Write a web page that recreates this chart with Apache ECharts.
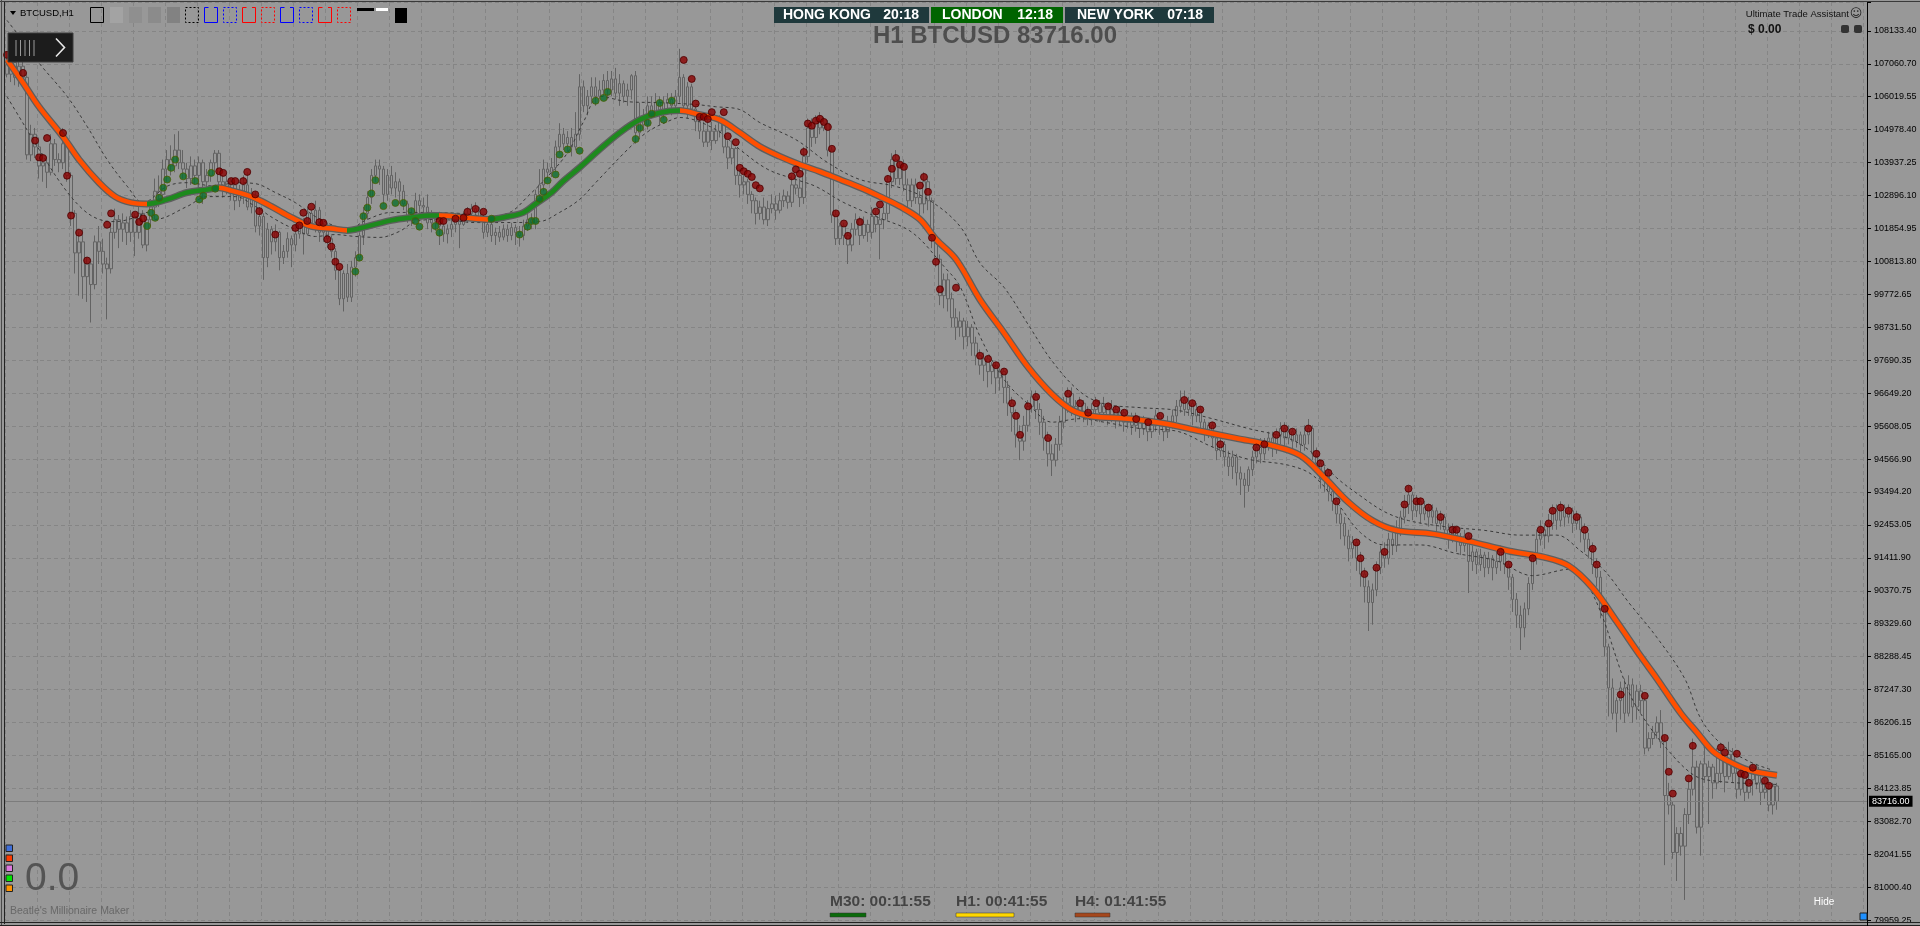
<!DOCTYPE html>
<html><head><meta charset="utf-8">
<script src="https://cdn.jsdelivr.net/npm/echarts/dist/echarts.min.js"></script>
<style>html,body{margin:0;padding:0;background:#989898;}#c{width:1920px;height:926px;}</style>
</head><body><div id="c"></div>
<script>
// ---------------- DATA ----------------
const symbolName = 'BTCUSD,H1';
const lastPrice = 83716.00;
const yTickLabels = ['79959.25','81000.40','82041.55','83082.70','84123.85','85165.00','86206.15','87247.30','88288.45','89329.60','90370.75','91411.90','92453.05','93494.20','94566.90','95608.05','96649.20','97690.35','98731.50','99772.65','100813.80','101854.95','102896.10','103937.25','104978.40','106019.55','107060.70','108133.40'];

const candleOpen = [
107000,106700,107070,106600,106950,106600,104150,104800,104400,103800,
103900,103600,104500,104000,103900,104500,103500,102300,101050,101400,
100300,100700,100050,101400,101100,100700,100550,101700,102100,101800,
102000,101700,102200,101700,102300,101300,102100,102500,103000,102900,
103700,104000,103800,104300,103900,103700,103400,103800,103500,103900,
103300,103500,103900,104200,103300,103100,103300,103200,102700,103000,
103200,102500,102800,101900,102200,100900,101800,101400,101700,100900,
101100,101500,101300,101650,102000,101650,102300,102000,102400,101700,
101900,101500,101100,100500,99600,100400,99650,100600,100900,101600,
102300,102800,103500,103800,103700,102900,103500,103100,103300,103000,
102600,102200,102300,102700,102550,102500,102000,102200,102050,101900,
101650,101800,101950,102150,101950,102200,102300,102450,102350,102200,
101700,101950,101600,101700,101550,101800,101600,101850,101700,101600,
101900,102100,102000,102900,103200,103700,103600,103750,104400,104800,
104500,104700,104400,104800,106300,105700,106000,106300,106000,106200,
106500,106200,106550,106100,106400,106000,106200,106650,104850,105300,
105100,105700,105500,105800,105500,105800,105900,105700,106000,106600,
105700,106300,105600,105200,104900,104550,104900,104600,104900,105200,
104400,104050,104350,103500,103200,103300,102900,102700,102300,102500,
102100,102450,102600,102400,102700,102850,102650,103200,103100,102800,
104100,105000,104700,105200,105000,105150,104300,102250,101500,101900,
101600,101300,101800,102100,101600,101950,101700,102200,101950,102100,
102300,103300,104000,103400,103800,103200,102700,103200,102800,102600,
103300,102700,101500,100850,99700,100200,
99600,99000,98700,98900,98400,98700,98200,97800,97500,97700,
97300,97500,97100,97300,96800,96300,96000,95300,95100,95600,
96200,96500,96100,95700,95200,94700,94500,95000,95700,96300,
96600,96200,96000,96300,96000,95800,96100,96300,96000,96200,
95900,96100,95800,96000,95700,95900,95600,95800,95500,95700,
95400,95600,95900,95600,95400,95700,95900,96200,96400,96100,
96300,95900,96100,95700,95400,95600,95200,94800,95000,94600,
94300,94600,94100,93900,93700,94200,94600,94900,94700,95000,
95200,94900,95300,95500,95200,95400,95100,95300,95000,95300,
95500,94700,94400,93900,94100,93500,93200,92800,92500,92100,
91700,91900,91400,90900,90500,90000,90400,91100,91600,91400,
92000,91800,92300,92700,93100,93400,92900,93200,92800,93000,
92700,92900,92500,92700,92300,92100,92300,92000,91800,92100,
91300,91600,91200,91500,91100,91400,91100,91300,91600,91200,
90800,90100,89600,89200,89800,90600,91400,92000,92300,92100,
92500,92900,92600,93000,92700,92900,92500,92700,92300,92000,
91700,91200,90800,89800,
88600,87300,86500,86900,87300,86500,87400,86700,87200,86900,
85400,85700,85900,86200,85600,83900,83600,82100,82700,82300,
83300,84100,84800,82900,84900,84500,84800,84300,84600,85100,
84500,85200,84600,84100,84500,84000,84400,84800,84300,84000,
84100,83600,84200];

const candleClose = [
106700,107070,106600,106950,106600,104150,104800,104400,103800,103900,
103600,104500,104000,103900,104500,103500,102300,101050,101400,100300,
100700,100050,101400,101100,100700,100550,101700,102100,101800,102000,
101700,102200,101700,102300,101300,102100,102500,103000,102900,103700,
104000,103800,104300,103900,103700,103400,103800,103500,103900,103300,
103500,103900,104200,103300,103100,103300,103200,102700,103000,103200,
102500,102800,101900,102200,100900,101800,101400,101700,100900,101100,
101500,101300,101650,102000,101650,102300,102000,102400,101700,101900,
101500,101100,100500,99600,100400,99650,100600,100900,101600,102300,
102800,103500,103800,103700,102900,103500,103100,103300,103000,102600,
102200,102300,102700,102550,102500,102000,102200,102050,101900,101650,
101800,101950,102150,101950,102200,102300,102450,102350,102200,101700,
101950,101600,101700,101550,101800,101600,101850,101700,101600,101900,
102100,102000,102900,103200,103700,103600,103750,104400,104800,104500,
104700,104400,104800,106300,105700,106000,106300,106000,106200,106500,
106200,106550,106100,106400,106000,106200,106650,104850,105300,105100,
105700,105500,105800,105500,105800,105900,105700,106000,106600,105700,
106300,105600,105200,104900,104550,104900,104600,104900,105200,104400,
104050,104350,103500,103200,103300,102900,102700,102300,102500,102100,
102450,102600,102400,102700,102850,102650,103200,103100,102800,104100,
105000,104700,105200,105000,105150,104300,102250,101500,101900,101600,
101300,101800,102100,101600,101950,101700,102200,101950,102100,102300,
103300,104000,103400,103800,103200,102700,103200,102800,102600,103300,
102700,101500,100850,99700,100200,99600,
99000,98700,98900,98400,98700,98200,97800,97500,97700,97300,
97500,97100,97300,96800,96300,96000,95300,95100,95600,96200,
96500,96100,95700,95200,94700,94500,95000,95700,96300,96600,
96200,96000,96300,96000,95800,96100,96300,96000,96200,95900,
96100,95800,96000,95700,95900,95600,95800,95500,95700,95400,
95600,95900,95600,95400,95700,95900,96200,96400,96100,96300,
95900,96100,95700,95400,95600,95200,94800,95000,94600,94300,
94600,94100,93900,93700,94200,94600,94900,94700,95000,95200,
94900,95300,95500,95200,95400,95100,95300,95000,95300,95500,
94700,94400,93900,94100,93500,93200,92800,92500,92100,91700,
91900,91400,90900,90500,90000,90400,91100,91600,91400,92000,
91800,92300,92700,93100,93400,92900,93200,92800,93000,92700,
92900,92500,92700,92300,92100,92300,92000,91800,92100,91300,
91600,91200,91500,91100,91400,91100,91300,91600,91200,90800,
90100,89600,89200,89800,90600,91400,92000,92300,92100,92500,
92900,92600,93000,92700,92900,92500,92700,92300,92000,91700,
91200,90800,89800,88600,
87300,86500,86900,87300,86500,87400,86700,87200,86900,85400,
85700,85900,86200,85600,83900,83600,82100,82700,82300,83300,
84100,84800,82900,84900,84500,84800,84300,84600,85100,84500,
85200,84600,84100,84500,84000,84400,84800,84300,84000,84100,
83600,84200,83716];

const candleLow = [
106600,106450,106350,106300,106400,104000,103950,104050,103400,103300,
103100,103500,103800,103600,103700,103300,101900,100400,99700,99600,
99500,98850,99900,100700,100400,98950,100400,101500,101200,101400,
101300,101400,100950,101500,101200,101100,101900,102100,102500,102700,
103300,103500,103600,103700,103400,103100,103200,103200,103000,102600,
102900,103300,103600,103100,102800,102900,102700,102400,102500,102600,
102400,102300,101700,101600,100200,100600,101000,101100,100500,100700,
100900,100600,101100,101500,101000,101600,101800,101700,101400,101400,
101200,100900,100200,99400,99200,99500,99500,100300,100800,101300,
102100,102600,103300,103200,102600,102700,102900,102800,102600,102400,
102000,101900,102200,102300,102200,101800,101700,101750,101300,101400,
101350,101550,101700,101200,101900,102000,102100,102150,102000,101500,
101550,101400,101300,101400,101450,101400,101450,101300,101250,101450,
101750,101800,101800,102700,103000,103350,103450,103600,104200,104300,
104250,104100,104300,104600,105500,105400,105800,105700,105900,106000,
105900,106000,105900,105700,105800,105700,105900,104500,104700,104900,
104950,105300,105350,105100,105300,105600,105400,105500,105800,105500,
105300,105400,104900,104650,104400,104400,104300,104500,104700,104200,
103700,103850,103200,102800,102900,102600,102300,101950,102100,101950,
101900,102300,102100,102300,102500,102450,102500,102900,102500,102600,
103900,104400,104500,104800,104900,104100,102000,101300,101300,101300,
100700,101100,101600,101300,101500,101400,101500,101700,100850,101800,
102100,103100,103200,103200,103000,102500,102500,102600,102200,102300,
102400,101200,100600,99400,99300,99200,
98700,98300,98400,98000,98100,97800,97500,97200,97000,96800,
96900,96600,96700,96300,95900,95400,94900,94500,94800,95400,
96000,95800,95300,94800,94300,94000,94300,94800,95500,96000,
95900,95700,95800,95700,95600,95600,95900,95700,95800,95600,
95700,95500,95600,95400,95500,95300,95400,95200,95300,95100,
95200,95400,95300,95100,95200,95500,95700,96000,95900,95900,
95600,95700,95400,95100,95200,94900,94500,94600,94300,94000,
93900,93700,93400,93000,93500,94000,94400,94400,94500,94800,
94600,94700,95000,94900,95000,94800,94900,94700,94800,95000,
94500,94100,93600,93500,93200,92900,92500,92000,91800,91300,
91400,91000,90500,90000,89100,89300,90200,90900,91100,91200,
91500,91600,92100,92500,92800,92600,92700,92500,92600,92400,
92500,92200,92300,92000,91700,91900,91600,91500,91600,90300,
91000,90900,91000,90800,90900,90700,90900,91000,90900,90400,
89700,89200,88500,88900,89600,90400,91200,91800,91700,91900,
92300,92300,92400,92400,92500,92200,92300,91900,91600,91400,
90900,90500,89500,88300,
86400,86300,85900,86300,86200,86400,86200,86300,86500,85200,
85300,85500,85700,85400,81700,83300,81900,81200,82000,80600,
83000,83900,82700,82000,84300,83000,83800,84100,84300,84000,
84400,84300,83800,83900,83700,83800,83900,84100,83600,83800,
83400,83300,83450];

const candleHigh = [
107400,107350,107300,107300,107200,106750,105100,105000,104700,104200,
104100,104800,104650,104200,105000,104600,103600,102400,101700,101800,
100900,100850,101600,101900,101500,100900,102000,102450,102250,102300,
102200,102400,102300,102600,102400,102200,102700,103400,103500,104000,
104300,104450,104800,104900,104300,103900,104100,104000,104100,104000,
103700,104000,104300,104300,103500,103500,103400,103300,103200,103500,
103600,103100,103000,102500,102300,102000,101900,101950,101750,101300,
101700,101600,101850,102100,102150,102500,102400,102700,102500,102000,
102000,101600,101200,100600,100500,100700,100800,101100,101700,102500,
103000,103700,104000,104000,103800,103700,103800,103600,103400,103200,
102700,102450,102950,102900,102800,102900,102400,102300,102350,102000,
101950,102150,102300,102300,102350,102500,102600,102650,102500,102250,
102100,102000,101850,101900,101950,101950,102000,101950,101900,102100,
102300,102300,103050,103700,104000,103900,104050,104600,105150,105000,
104900,105000,105500,106700,106500,106200,106600,106600,106500,106700,
106800,106800,106900,106700,106500,106400,106700,106800,105800,105600,
106000,106000,106100,106000,106000,106100,106100,106200,107500,106700,
106450,106400,105700,105400,105200,105300,105200,105100,105400,105300,
104600,104600,104400,103700,103500,103400,103000,102800,102700,102800,
102700,102900,102850,102950,103050,103000,103500,103500,103400,104400,
105300,105300,105400,105500,105350,105250,104400,102400,102000,102000,
101700,102000,102300,102200,102200,102100,102500,102400,102450,102500,
103500,104200,104300,104100,104000,103400,103400,103400,103000,103600,
103400,102800,101600,101000,100400,100400,
99800,99300,99200,99000,98900,98800,98400,98000,97900,97800,
97600,97600,97400,97400,97000,96500,96100,95600,95900,96400,
96700,96700,96300,95900,95400,95000,95200,95900,96500,96800,
96800,96400,96500,96400,96200,96300,96500,96400,96500,96300,
96400,96200,96200,96100,96100,96000,96000,95900,95900,95800,
95800,96100,96000,95700,95900,96100,96400,96700,96700,96500,
96400,96300,96200,95800,95700,95700,95300,95200,95100,94800,
94800,94700,94300,94100,94300,94800,95100,95200,95200,95400,
95400,95500,95700,95700,95600,95500,95500,95400,95600,95800,
95600,94900,94500,94300,94200,93700,93300,93000,92700,92300,
92100,92000,91600,91100,90700,90600,91300,91800,91900,92200,
92200,92600,92900,93400,93700,93500,93400,93300,93200,93100,
93100,93000,92900,92800,92500,92500,92400,92200,92300,92200,
91800,91700,91700,91600,91600,91500,91600,91800,91700,91300,
90900,90300,89900,90000,90800,91600,92300,92600,92500,92800,
93100,93100,93200,93100,93100,93000,92900,92800,92500,92200,
91900,91400,91000,90000,
88700,87600,87000,87500,87600,87700,87600,87400,87400,87000,
85900,86100,86400,86600,85800,84300,83700,82900,82900,83500,
84400,85700,85000,85000,85600,85000,84900,85400,85400,85200,
85600,85400,84800,84700,84600,84600,84900,84900,84500,84400,
84300,84300,84300];

// smoothed trend line [candle index, price]
const trendLine = [[0,107155],[4,106430],[8,105670],[14,104720],[18,104000],[23,103270],[27,102830],[31,102640],[35,102600],[40,102740],[45,102960],[50,103050],[53,103110],[56,103020],[61,102830],[66,102520],[71,102170],[76,101890],[81,101820],[85,101760],[90,101890],[96,102080],[101,102170],[106,102230],[108,102230],[114,102170],[120,102110],[125,102200],[129,102330],[132,102600],[136,102960],[139,103330],[143,103750],[148,104320],[153,104850],[158,105260],[163,105480],[168,105550],[173,105420],[178,105260],[183,104850],[188,104410],[193,104100],[198,103840],[203,103620],[208,103370],[213,103120],[218,102830],[223,102520],[228,102110],[232,101480],[237,100850],[243,99570],[249,98520],[255,97440],[261,96580],[266,96080],[271,95890],[280,95810],[289,95660],[298,95420],[307,95190],[316,94960],[323,94650],[329,93950],[335,93170],[341,92590],[347,92280],[356,92170],[365,91940],[375,91630],[384,91430],[390,91160],[396,90460],[402,89400],[408,88300],[412,87600],[418,86500],[422,85900],[426,85300],[430,84980],[435,84700],[442,84540]];
// rising (green) stretches of the trend line, by candle index
const risingRanges = [[35,53],[85,108],[120,168]];

const bandUpper = [[0,108400],[4,107750],[8,107050],[15,106000],[20,105050],[25,104000],[30,103160],[34,102640],[40,103160],[45,103270],[52,103160],[57,103270],[62,103240],[67,102960],[72,102640],[77,102200],[82,101890],[85,101790],[90,102110],[96,102330],[104,102330],[113,102300],[121,102200],[126,102360],[130,102830],[135,103460],[140,104220],[144,105200],[148,106000],[155,105830],[163,105800],[172,105740],[177,105670],[183,105580],[188,105170],[197,104630],[205,103900],[213,103370],[222,103150],[230,102740],[238,101890],[243,100730],[249,99960],[255,98790],[261,97630],[268,96660],[274,96280],[283,96160],[292,96080],[301,95810],[310,95500],[320,95190],[326,94730],[332,93950],[338,93370],[344,92870],[350,92590],[359,92400],[369,92280],[378,92130],[387,92130],[393,91630],[399,91000],[405,90000],[412,88900],[419,87590],[423,86330],[428,85540],[435,84980],[441,84700]];

const bandLower = [[0,105990],[3,105360],[8,104320],[14,103150],[19,102420],[23,102110],[27,102040],[32,102170],[35,102330],[37,102110],[45,102520],[50,102830],[57,102830],[62,102520],[67,102110],[72,101790],[77,101570],[82,101630],[87,101570],[93,101540],[98,101730],[102,102040],[108,102110],[117,102010],[125,102010],[133,102040],[138,102330],[143,102740],[147,103270],[155,104320],[160,104880],[166,105260],[168,105330],[177,104950],[183,104320],[190,103690],[197,103370],[202,103150],[209,102640],[217,102200],[226,101700],[234,100620],[238,99990],[243,98410],[249,97050],[255,96280],[261,95700],[268,95810],[274,95700],[283,95500],[292,95420],[301,94920],[310,94530],[320,94340],[326,94030],[332,93180],[338,92210],[344,91820],[353,91820],[362,91550],[372,91320],[381,90850],[390,91050],[396,90270],[405,87180],[410,86110],[416,85160],[420,84660],[423,84440],[428,84340],[435,84280],[442,84250]];

const redDots = [[0,107310],[4,106740],[7,104600],[8,104070],[9,104050],[10,104680],[14,104840],[15,103490],[16,102230],[18,101690],[20,100810],[25,101940],[26,102300],[32,102260],[33,102030],[34,102140],
[53,103630],[54,103580],[56,103320],[57,103320],[59,103320],[60,103610],[62,102900],[63,102370],[67,101630],[72,101840],[73,101920],[74,102320],[75,102060],[76,102510],[78,102020],[79,102000],[80,101480],[81,101250],[82,100770],[83,100610],
[108,102060],[109,102060],[112,102130],[114,102160],[115,102350],[117,102440],[119,102350],
[169,107150],[171,106550],[172,105770],[173,105350],[174,105350],[175,105280],[176,105500],[179,105500],[180,104740],[182,104550],[183,103740],[184,103630],[185,103550],[186,103450],[187,103190],[188,103090],[196,103470],[197,103690],[198,103550],[199,104240],[200,105140],[201,105070],[202,105230],[203,105290],[204,105190],[205,105030],[206,104340],[207,102300],[209,101980],[210,101590],[213,102030],[217,102360],[218,102580],[220,103390],[221,103710],[222,104050],[223,103840],[224,103770],[228,103180],[229,103450],[230,102980],[231,101530],[232,100770],[233,99900],[237,99950],
[243,97800],[245,97700],[247,97500],[249,97300],[251,96300],[252,95900],[253,95300],[255,96200],[257,96500],[260,95200],[265,96600],[268,96300],[270,96000],[272,96300],[275,96200],[277,96100],[279,96000],[282,95800],[285,95700],[288,95900],[294,96400],[296,96300],[298,96100],[301,95600],[303,95000],[312,94900],[314,95000],[317,95300],[319,95500],[321,95400],[325,95500],[327,94700],[328,94400],[330,94100],[332,93200],[337,91900],[338,91400],[339,90900],[342,91100],[344,91600],[349,93100],[350,93600],[352,93200],[353,93200],[355,93000],[358,92700],[361,92300],[362,92300],[365,92100],[373,91600],[375,91200],[381,91400],[383,92300],[385,92500],[386,92900],[388,93000],[390,92900],[392,92700],[394,92300],[396,91700],[397,91200],[399,89800],
[403,87090],[409,87050],[414,85720],[415,84650],[416,83960],[420,84440],[421,85470],[428,85420],[429,85260],[432,85220],[433,84590],[434,84550],[435,84300],[436,84780],[439,84370],[440,84210]];

const greenDots = [[35,101900],[36,102320],[37,102160],[38,102790],[39,103110],[40,103370],[41,103740],[42,104000],[44,103470],[47,103320],[48,102740],[49,102860],[51,103580],[52,103080],
[87,100460],[88,100900],[89,102210],[90,102480],[91,102930],[92,103350],[94,102530],[97,102630],[99,102630],[101,102370],[102,102060],[103,101880],[107,101900],[108,101690],
[121,102130],[128,101630],[130,101880],[131,102060],[132,102060],[133,102760],[134,102980],[135,103340],[137,103530],[138,104160],[140,104320],[143,104280],[147,105860],[149,105950],[150,106140],[157,104650],[158,105000],[160,105160],[161,105450],[163,105790],[164,105260],[166,105860]];

const clocks = [['HONG KONG','20:18'],['LONDON','12:18'],['NEW YORK','07:18']];
const timers = ['M30: 00:11:55','H1: 00:41:55','H4: 01:41:55'];

// ---------------- CHART ----------------
const slotCount = 465;
const slots = Array.from({length: slotCount}, (_, i) => String(i));
const candles = candleOpen.map((o, i) => [o, candleClose[i], candleLow[i], candleHigh[i]]);
const yMin = 79959.25, yStep = 1041.15;

const ORANGE = '#ff4f00', GREEN = '#1d8a1d';
const pieces = [];
let prev = -1;
risingRanges.forEach(([a, b]) => {
  pieces.push({gte: prev, lt: a, color: ORANGE});
  pieces.push({gte: a, lt: b, color: GREEN});
  prev = b;
});
pieces.push({gte: prev, lte: 1000, color: ORANGE});

const FONT = '"Liberation Sans", Arial, sans-serif';
const g = [];
const txt = (x, y, text, font, fill, align, extra) => g.push(Object.assign({type: 'text', x, y, z: 200, style: {text, font, fill, textAlign: align || 'left', textVerticalAlign: 'middle'}}, extra || {}));
const rect = (x, y, w, h, style, extra) => g.push(Object.assign({type: 'rect', z: 200, shape: {x, y, width: w, height: h}, style}, extra || {}));
const line = (x1, y1, x2, y2, stroke, w, dash) => g.push({type: 'line', z: 200, shape: {x1, y1, x2, y2}, style: {stroke, lineWidth: w || 1, lineDash: dash || null}});
const poly = (points, stroke, w, dash) => g.push({type: 'polyline', z: 200, shape: {points}, style: {stroke, fill: null, lineWidth: w || 1, lineDash: dash || null}});

// frame
line(0, 1.5, 1920, 1.5, '#3a3a3a', 1);
line(1.5, 0, 1.5, 926, '#4a4a4a', 1);
line(4.5, 2, 4.5, 924, '#222', 1);
line(0, 922.5, 1920, 922.5, '#222', 1);
line(0, 925.5, 1920, 925.5, '#222', 1);
line(1867.5, 915, 1867.5, 926, '#000', 1);

// top-left label and tool icons
g.push({type: 'polygon', z: 200, shape: {points: [[10, 11], [16, 11], [13, 15]]}, style: {fill: '#000'}});
txt(20, 13.5, symbolName, '9.5px ' + FONT, '#000');
rect(90.5, 7.5, 13, 15, {fill: null, stroke: '#000', lineWidth: 1});
[['#a3a3a3', 110], ['#8f8f8f', 129], ['#8b8b8b', 148], ['#828282', 167]].forEach(([c, x]) => rect(x, 7, 13, 16, {fill: c}));
rect(185.5, 7.5, 13, 15, {fill: null, stroke: '#000', lineWidth: 1, lineDash: [2, 2]});
const bracket = (x, c, dashed) => {
  if (dashed) { rect(x + 0.5, 7.5, 13, 15, {fill: null, stroke: c, lineWidth: 1, lineDash: [2, 2]}); }
  else { poly([[x + 4.5, 7.5], [x + 0.5, 7.5], [x + 0.5, 22.5], [x + 13.5, 22.5], [x + 13.5, 7.5], [x + 10, 7.5]], c, 1); }
};
bracket(204, '#0000ff', false); bracket(223, '#0000ff', true);
bracket(242, '#ff0000', false); bracket(261, '#ff0000', true);
bracket(280, '#0000ff', false); bracket(299, '#0000ff', true);
bracket(318, '#ff0000', false); bracket(337, '#ff0000', true);
rect(357, 8, 17, 3, {fill: '#000'});
rect(376, 8, 12, 3, {fill: '#fff'});
rect(395, 8, 12, 15, {fill: '#000'});

// menu box
rect(8, 33, 65, 29, {fill: '#1c1c1c', stroke: '#3c3c3c', lineWidth: 1});
[16, 20.5, 25, 29.5, 34].forEach(x => line(x, 40, x, 56, '#9a9a9a', 1));
poly([[56, 38.5], [64.5, 47.5], [56, 56.5]], '#e8e8e8', 1.6);

// clocks
const clockBoxes = [[774, 155, '#1f393c', 783, 919], [931, 132, '#006400', 942, 1053], [1065, 149, '#1f393c', 1077, 1203]];
clockBoxes.forEach(([x, w, c, tx, tr], k) => {
  rect(x, 7, w, 16, {fill: c});
  txt(tx, 15.5, clocks[k][0], 'bold 14px ' + FONT, '#fff');
  txt(tr, 15.5, clocks[k][1], 'bold 14px ' + FONT, '#fff', 'right');
});
// title
txt(995, 36, 'H1 BTCUSD ' + lastPrice.toFixed(2), 'bold 24px ' + FONT, '#4e4e4e', 'center');

// top right
txt(1849, 14, 'Ultimate Trade Assistant', '9.5px ' + FONT, '#111', 'right');
txt(1856, 14, '\u263A', '12px DejaVu Sans', '#222', 'center');
txt(1748, 29.5, '$ 0.00', 'bold 12px ' + FONT, '#111');
rect(1841, 25, 8, 8, {fill: '#333'}, {shape: {x: 1841, y: 25, width: 8, height: 8, r: 2}});
rect(1854, 25, 8, 8, {fill: '#333'}, {shape: {x: 1854, y: 25, width: 8, height: 8, r: 2}});

// bottom-left
[['#3f6fd9', 845], ['#ff3a00', 855], ['#dd77dd', 865], ['#00e600', 875], ['#ff9400', 885]].forEach(([c, y]) => rect(6, y, 6.5, 6.5, {fill: c, stroke: '#222', lineWidth: 1}));
txt(25, 879, '0.0', '39px ' + FONT, '#545454');
txt(10, 911.5, "Beatle's Millionaire Maker", '10.5px ' + FONT, '#686868');

// bottom timers
const timerX = [[830, 36, '#0a6a0a'], [956, 58, '#ffd700'], [1075, 35, '#a5471c']];
timerX.forEach(([x, bw, c], k) => {
  txt(x, 901.5, timers[k], 'bold 15.5px ' + FONT, '#444');
  rect(x, 913, bw, 4, {fill: c, stroke: '#333', lineWidth: 0.5});
});
txt(1824, 902, 'Hide', '10px ' + FONT, '#fff', 'center');
rect(1860, 913, 7, 7, {fill: '#1e90ff', stroke: '#222', lineWidth: 1});

const chart = echarts.init(document.getElementById('c'), null, {renderer: 'canvas'});
chart.setOption({
  backgroundColor: '#989898',
  animation: false,
  grid: {left: 5, right: 53, top: 2, bottom: 5.8, containLabel: false},
  xAxis: {
    type: 'category', data: slots, boundaryGap: true,
    axisLine: {show: false}, axisTick: {show: false}, axisLabel: {show: false},
    splitLine: {show: true, interval: 7, lineStyle: {color: '#858585', type: [4, 3], width: 1}}
  },
  yAxis: {
    type: 'value', position: 'right', min: yMin, max: 108981, interval: yStep, scale: true,
    axisLine: {show: true, lineStyle: {color: '#000', width: 1}},
    axisTick: {show: true, length: 4, lineStyle: {color: '#000'}},
    axisLabel: {margin: 7, color: '#000', fontSize: 9, fontFamily: 'Liberation Sans',
      formatter: v => { const k = Math.round((v - yMin) / yStep); return (Math.abs(v - (yMin + k * yStep)) < 0.5 && yTickLabels[k]) ? yTickLabels[k] : ''; }},
    splitLine: {show: true, lineStyle: {color: '#858585', type: [4, 3], width: 1}}
  },
  visualMap: {show: false, type: 'piecewise', seriesIndex: 4, dimension: 0, pieces},
  series: [
    {type: 'candlestick', data: candles, barWidth: 3, z: 2,
      itemStyle: {color: '#989898', color0: '#989898', borderColor: '#636363', borderColor0: '#636363', borderWidth: 1},
      markLine: {symbol: 'none', silent: true, animation: false,
        lineStyle: {color: '#7c7c7c', type: 'solid', width: 1},
        label: {show: true, position: 'end', formatter: lastPrice.toFixed(2), backgroundColor: '#000', color: '#fff', fontSize: 9, fontFamily: 'Liberation Sans', padding: [1, 3, 1, 3], distance: 2},
        data: [{yAxis: lastPrice}]}},
    {type: 'line', data: bandUpper, smooth: 0.35, symbol: 'none', z: 3, lineStyle: {color: '#3a3a3a', width: 1, type: [3, 3]}},
    {type: 'line', data: bandLower, smooth: 0.35, symbol: 'none', z: 3, lineStyle: {color: '#3a3a3a', width: 1, type: [3, 3]}},
    {type: 'line', data: trendLine, smooth: 0.35, symbol: 'none', z: 4, lineStyle: {color: '#5e5e5e', width: 7}},
    {type: 'line', data: trendLine, smooth: 0.35, symbol: 'none', z: 5, lineStyle: {width: 4.5}},
    {type: 'scatter', data: redDots, symbolSize: 7, z: 6, itemStyle: {color: '#8b0000', borderColor: '#4d0000', borderWidth: 1}},
    {type: 'scatter', data: greenDots, symbolSize: 7, z: 6, itemStyle: {color: '#0b6e2e', borderColor: '#4f5f00', borderWidth: 1}}
  ],
  graphic: {elements: g}
});
</script>
</body></html>
